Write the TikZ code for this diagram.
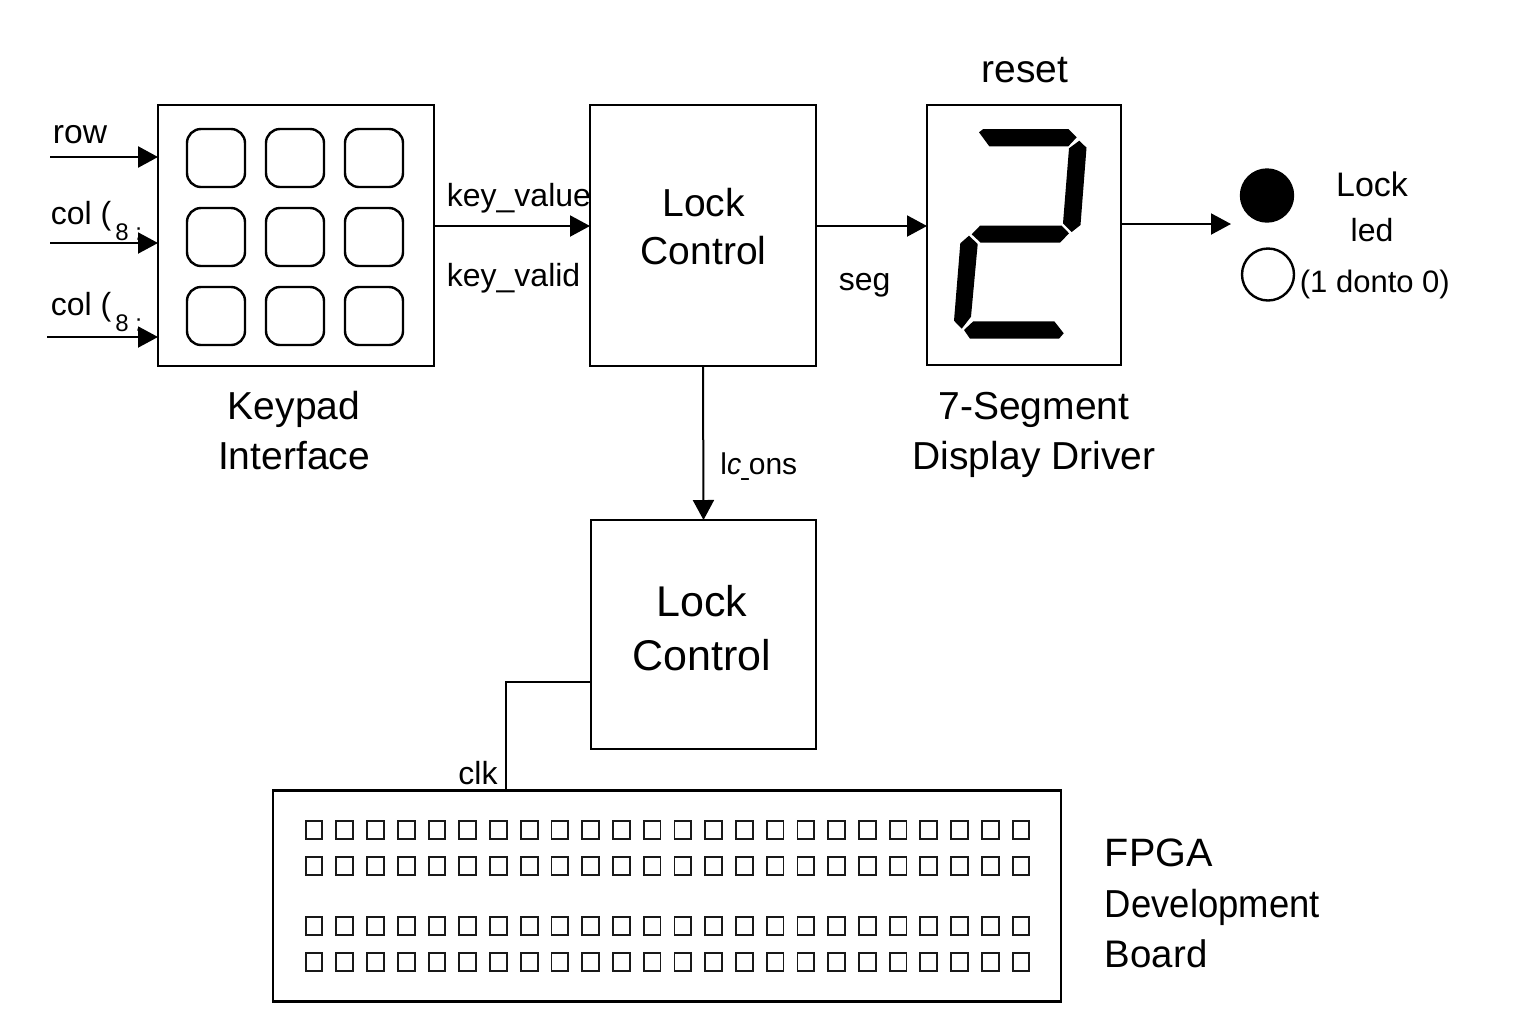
\documentclass[tikz,border=0pt]{standalone}
\usepackage{fontspec}
\setmainfont{Liberation Sans}
\usetikzlibrary{arrows.meta}
\newcommand{\fs}[1]{\fontsize{#1}{#1}\selectfont}
\tikzset{
  box/.style={draw=black,line width=1.4pt,fill=white,inner sep=0pt,outer sep=0pt},
  key/.style={draw=black,line width=1.2pt,rounded corners=7pt,minimum size=29pt,inner sep=0pt},
  pin/.style={draw=black!90,line width=0.95pt,minimum width=8.4pt,minimum height=9.4pt,inner sep=0pt},
  arr/.style={line width=1pt,-{Triangle[length=10pt,width=10.5pt]}},
  wire/.style={line width=1pt},
  big/.style={font=\fs{19.5},align=center,inner sep=0pt},
  lab/.style={font=\fs{16},inner sep=0pt,anchor=base west},
  seg7/.style={fill=black,draw=none},
  led/.style={draw=black,line width=1.2pt,circle,minimum size=26pt,inner sep=0pt,outer sep=0pt}
}
\begin{document}
\begin{tikzpicture}[x=0.5pt,y=-0.5pt]
\useasboundingbox (0,0) rectangle (1536,1024);
\fill[white] (0,0) rectangle (1536,1024);
% main boxes
\node[box,minimum width=138pt,minimum height=130.5pt] (kp) at (296,235.5) {};
\node[box,minimum width=113pt,minimum height=130.5pt] (lock) at (703,235.5) {};
\node[box,minimum width=97pt,minimum height=130pt] (disp) at (1024,235) {};
\node[box,minimum width=112.5pt,minimum height=114.5pt] (lockb) at (703.5,634.5) {};
\node[box,minimum width=394pt,minimum height=105.5pt] (fpga) at (667,896) {};
% keypad keys
\foreach \c/\x in {1/216,2/295,3/374}
  \foreach \r/\y in {1/158,2/237,3/316}
    \node[key] (k\r\c) at (\x,\y) {};
% FPGA pins
\foreach \r/\y in {1/830,2/866,3/926,4/962}
  \foreach \i in {0,...,23}
    \node[pin] (p\r-\i) at ({314+30.74*\i},\y) {};
% seven-segment digit
\fill[seg7] (979,132.3)--(983.3,129)--(1068.3,129)--(1076.7,137.3)--(1068.3,146.3)--(989.3,146.3)--cycle;
\fill[seg7] (1079.3,140.7)--(1086.5,147.7)--(1080.5,225)--(1071.7,232)--(1063,223.3)--(1069,148.3)--cycle;
\fill[seg7] (971.7,234.3)--(980,225.7)--(1061.7,225.7)--(1069,233.3)--(1060,242.7)--(980.7,242.7)--cycle;
\fill[seg7] (969,235.7)--(977.7,244)--(971,316.7)--(961.7,328.7)--(954,320.7)--(960.3,243.3)--cycle;
\fill[seg7] (964,330)--(973.3,321.3)--(1054.3,321.3)--(1063.7,333.3)--(1059,338.7)--(970,338.7)--cycle;
% LEDs
\node[led,fill=black] (ledon) at (1267,195.5) {};
\node[led,fill=white] (ledoff) at (1268,274.5) {};
% box captions
\node[big] (t1) at (294,431) {Keypad\\[5.5pt]Interface};
\node[big] (t2) at (703.5,227) {Lock\\[4.5pt]Control};
\node[big,font=\fs{21.5}] (t3) at (702,628.5) {Lock\\[5.5pt]Control};
\node[big] (t4) at (1034,434.5) {7-Segment\\[5.5pt]Display Driver};
\node[big,anchor=base] (t5) at (1025,82) {reset};
\node[font=\fs{19.8},inner sep=0pt,anchor=base west] (t6) at (1104.5,866) {FPGA};
\node[font=\fs{19.5},inner sep=0pt,anchor=base west] (t7) at (1104.5,917) {\scalebox{0.935}[1]{Development}};
\node[font=\fs{19.2},inner sep=0pt,anchor=base west] (t8) at (1104.5,967) {Board};
% signal labels
\node[lab,font=\fs{16.8}] (l1) at (52.5,143) {row};
\node[lab] (l2) at (50.5,224.5) {col (};
\node[lab,font=\fs{12}] (l3) at (115,240) {8 :};
\node[lab] (l4) at (50.5,315.5) {col (};
\node[lab,font=\fs{12}] (l5) at (115,331) {8 :};
\node[lab] (l6) at (446.5,206.5) {key\_value};
\node[lab] (l7) at (446.5,286.5) {key\_valid};
\node[lab] (l8) at (838.5,290) {seg};
\node[lab,font=\fs{15}] (l9) at (720,474.5) {l{\itshape\scalebox{0.95}[1]{c}}\scalebox{0.45}[1]{\_}ons};
\node[lab] (l10) at (458,784.5) {clk};
\node[lab,font=\fs{17},anchor=base] (l11) at (1372,196) {Lock};
\node[lab,anchor=base] (l12) at (1372,241) {led};
\node[lab,font=\fs{15.5}] (l13) at (1299.5,292) {(1 donto 0)};
% free ends
\coordinate (in1) at (50,157);
\coordinate (in2) at (50,243);
\coordinate (in3) at (47,337);
\coordinate (out) at (1231,224);
\coordinate (bend) at (506,682);
% connectors
\draw[arr,line width=1.3pt] (in1) -- (in1 -| kp.west);
\draw[arr] (in2) -- (in2 -| kp.west);
\draw[arr] (in3) -- (in3 -| kp.west);
\draw[arr] ([yshift=4.75pt]kp.east) -- ([yshift=4.75pt]lock.west);
\draw[arr] ([yshift=4.75pt]lock.east) -- ([yshift=4.5pt]disp.west);
\draw[arr] ([yshift=5.5pt]disp.east) -- (out);
\draw[arr] (lock.south) -- (lockb.north);
\draw[wire] (bend -| lockb.west) -- (bend) -- (bend |- fpga.north);
\end{tikzpicture}
\end{document}
